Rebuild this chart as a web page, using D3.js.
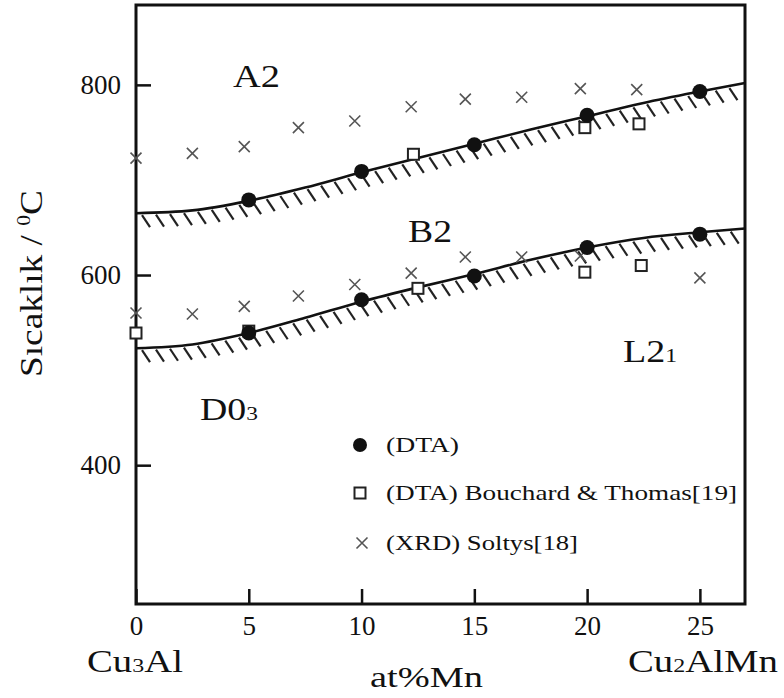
<!DOCTYPE html>
<html><head><meta charset="utf-8">
<script src="https://cdn.jsdelivr.net/npm/d3@7"></script>
<style>body{margin:0;background:#fff}svg{display:block}text{font-family:"Liberation Serif","Times New Roman",serif;fill:#111}</style>
</head><body>
<svg id="c" width="784" height="698"></svg>
<script>
// ---- data ----
const xTicks = [0, 5, 10, 15, 20, 25];
const yTicks = [400, 600, 800];
const curveX = [0, 2.5, 5, 7.5, 10, 12.5, 15, 17.5, 20, 22.5, 25, 27];
const upperCurve = [665, 668, 678, 692, 708, 723, 738, 753, 767, 781, 793, 802];
const lowerCurve = [523, 527, 539, 555, 572, 587, 601, 616, 629, 639, 645, 649];
const dtaX = [5, 10, 15, 20, 25, 5, 10, 15, 20, 25];
const dtaT = [679, 709, 737, 768, 793, 539, 574, 599, 629, 643];
const bouchardX = [0, 5, 12.5, 19.9, 22.4, 12.3, 19.9, 22.3];
const bouchardT = [539, 541, 586, 603, 610, 727, 755, 759];
const soltysX = [0, 2.5, 4.8, 7.2, 9.7, 12.2, 14.6, 17.1, 19.7, 22.2,
                 0, 2.5, 4.8, 7.2, 9.7, 12.2, 14.6, 17.1, 19.7, 22.4, 25.0];
const soltysT = [723, 728, 735, 755, 762, 777, 785, 787, 796, 795,
                 560, 559, 567, 578, 590, 602, 619, 619, 620, 610, 597];
const legendLabels = ["(DTA)", "(DTA) Bouchard  &  Thomas[19]", "(XRD)  Soltys[18]"];

const svg = d3.select("#c");
const x = d3.scaleLinear().domain([0, 27]).range([136, 745]);
const y = d3.scaleLinear().domain([254, 884]).range([604, 5]);

// axes with inward ticks
const gx = svg.append("g").attr("transform", "translate(0,604)")
  .call(d3.axisBottom(x).tickValues(xTicks).tickSizeInner(-15).tickSizeOuter(0).tickPadding(12));
const gy = svg.append("g").attr("transform", "translate(136,0)")
  .call(d3.axisLeft(y).tickValues(yTicks).tickSizeInner(-15).tickSizeOuter(0).tickPadding(15));
[gx, gy].forEach(g => {
  g.select(".domain").remove();
  g.selectAll(".tick line").attr("stroke", "#111").attr("stroke-width", 2.5);
  g.selectAll(".tick text").attr("font-family", "Liberation Serif").attr("font-size", 27).attr("fill", "#111");
});

// frame
svg.append("rect").attr("x", x(0)).attr("y", y(884)).attr("width", x(27) - x(0)).attr("height", y(254) - y(884))
  .attr("fill", "none").attr("stroke", "#111").attr("stroke-width", 3);

// curves with hatching
const line = d3.line().x(d => x(d[0])).y(d => y(d[1])).curve(d3.curveMonotoneX);
[upperCurve, lowerCurve].forEach(vals => {
  const pts = curveX.map((v, i) => [v, vals[i]]);
  const p = svg.append("path").attr("d", line(pts)).attr("fill", "none").attr("stroke", "#111").attr("stroke-width", 2.6);
  const node = p.node(), L = node.getTotalLength();
  const hatch = [];
  for (let s = 5; s < L - 4; s += 14) { const q = node.getPointAtLength(s); hatch.push(q); }
  svg.append("g").selectAll("line").data(hatch).join("line")
    .attr("x1", d => d.x + 1).attr("y1", d => d.y + 2)
    .attr("x2", d => Math.min(d.x + 9, x(27))).attr("y2", d => d.y + 14)
    .attr("stroke", "#222").attr("stroke-width", 2.2);
});

// markers
function cross(g, cx, cy, r) {
  g.append("path").attr("d", `M${cx - r},${cy - r}L${cx + r},${cy + r}M${cx - r},${cy + r}L${cx + r},${cy - r}`)
    .attr("stroke", "#555").attr("stroke-width", 1.6).attr("fill", "none");
}
function square(g, cx, cy) {
  g.append("rect").attr("x", cx - 5.5).attr("y", cy - 5.5).attr("width", 11).attr("height", 11)
    .attr("fill", "#fff").attr("stroke", "#222").attr("stroke-width", 2);
}
const gm = svg.append("g");
soltysX.forEach((v, i) => cross(gm, x(v), y(soltysT[i]), 5.5));
bouchardX.forEach((v, i) => square(gm, x(v), y(bouchardT[i])));
dtaX.forEach((v, i) => gm.append("circle").attr("cx", x(v)).attr("cy", y(dtaT[i])).attr("r", 7.5).attr("fill", "#111"));

// legend
const lg = svg.append("g");
const ly = [445, 493, 543];
lg.append("circle").attr("cx", 360).attr("cy", ly[0]).attr("r", 7).attr("fill", "#111");
square(lg, 360, ly[1]);
cross(lg, 362, ly[2], 5.5);
const lw = [73, 351, 192];
legendLabels.forEach((t, i) => lg.append("text").attr("x", 386).attr("y", ly[i] + 7).attr("font-size", 21)
  .attr("textLength", lw[i]).attr("lengthAdjust", "spacingAndGlyphs").text(t));

// text helper with subscript
function label(xp, yp, main, sub, after, size, w, anchor) {
  const t = svg.append("text").attr("x", xp).attr("y", yp).attr("font-size", size).attr("text-anchor", anchor || "start");
  t.append("tspan").text(main);
  if (sub) t.append("tspan").attr("font-size", size * 0.62).text(sub);
  if (after) t.append("tspan").text(after);
  if (w) t.attr("textLength", w).attr("lengthAdjust", "spacingAndGlyphs");
  return t;
}
label(233, 87, "A2", null, null, 31, 47);
label(408, 242, "B2", null, null, 31, 44);
label(623, 362, "L2", "1", null, 31, 54);
label(200, 420, "D0", "3", null, 31, 58);
label(87, 672, "Cu", "3", "Al", 31, 96);
label(628, 672, "Cu", "2", "AlMn", 31, 150);
label(370, 687, "at%Mn", null, null, 30, 113);

// y axis title
const yt = svg.append("text").attr("transform", "translate(42,377) rotate(-90)").attr("text-anchor", "start")
  .attr("font-size", 31).attr("textLength", 187).attr("lengthAdjust", "spacingAndGlyphs");
yt.append("tspan").text("Sıcaklık / ");
yt.append("tspan").attr("font-size", 18).attr("dy", -12).text("0");
yt.append("tspan").attr("dy", 12).text("C");
</script>
</body></html>
